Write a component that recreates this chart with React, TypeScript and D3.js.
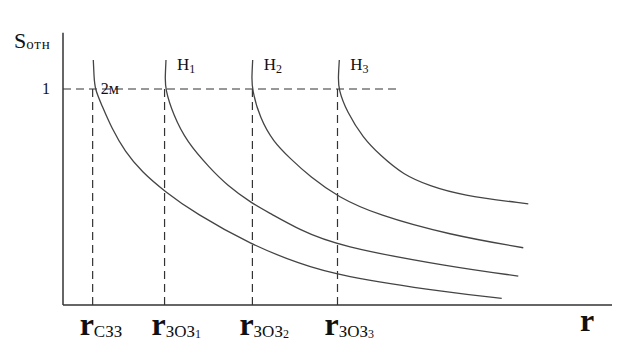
import React, { useEffect } from "react";
import * as d3 from "d3";

// ---- data (r in relative units, S = relative area) ----
const curveNames = ["2м", "H1", "H2", "H3"];
const curve2m: [number, number][] = [
  [0.552, 1.134], [0.565, 1.06], [0.58, 1.0], [0.705, 0.926], [0.887, 0.818], [1.129, 0.71],
  [1.434, 0.617], [1.858, 0.525], [2.404, 0.425], [3.437, 0.278], [4.317, 0.19],
  [5.004, 0.136], [7.049, 0.056], [7.991, 0.031],
];
const curveH1: [number, number][] = [
  [1.876, 1.134], [1.862, 1.06], [1.86, 1.0], [2.009, 0.88], [2.253, 0.756], [2.678, 0.633],
  [2.982, 0.556], [3.437, 0.471], [3.77, 0.425], [4.317, 0.347], [5.004, 0.273],
  [7.049, 0.177], [8.293, 0.134],
];
const curveH2: [number, number][] = [
  [3.455, 1.134], [3.44, 1.06], [3.44, 1.0], [3.588, 0.864], [3.831, 0.756], [4.135, 0.679],
  [4.499, 0.594], [5.015, 0.499], [5.714, 0.418], [7.049, 0.324], [8.384, 0.265],
];
const curveH3: [number, number][] = [
  [5.033, 1.134], [5.015, 1.06], [5.015, 1.0], [5.168, 0.895], [5.47, 0.772], [5.774, 0.694],
  [6.199, 0.602], [6.685, 0.551], [7.231, 0.509], [8.475, 0.468],
];
const curves = [curve2m, curveH1, curveH2, curveH3];

const markerR = [0.54, 1.85, 3.45, 5.0];
const markerSub = ["СЗЗ", "ЗОЗ", "ЗОЗ", "ЗОЗ"];
const markerIdx = ["", "1", "2", "3"];
const refS = 1;
const refLineEnd = 6.14;
const xMax = 10;
const yMax = 1.26;

const W = 642;
const H = 358;
const serif = "'Liberation Serif', 'DejaVu Serif', serif";

export default function App() {
  useEffect(() => {
    document.body.style.margin = "0";
  }, []);

  const x = d3.scaleLinear().domain([0, xMax]).range([63, 612]);
  const y = d3.scaleLinear().domain([0, 1.25]).range([305, 35]);
  const line = d3
    .line<[number, number]>()
    .x((d) => x(d[0]))
    .y((d) => y(d[1]))
    .curve(d3.curveBasis);

  const ink = "#333";

  return (
    <svg width={W} height={H} style={{ display: "block", background: "#fff" }} fontFamily={serif}>
      {/* axes */}
      <line x1={x(0)} x2={x(0)} y1={y(0)} y2={y(yMax)} stroke={ink} strokeWidth={1.5} />
      <line x1={x(0)} x2={x(xMax)} y1={y(0)} y2={y(0)} stroke={ink} strokeWidth={1.5} />

      {/* reference dashed line S = 1 */}
      <line
        x1={x(0)}
        x2={x(refLineEnd)}
        y1={y(refS)}
        y2={y(refS)}
        stroke={ink}
        strokeWidth={1.2}
        strokeDasharray="8,5"
      />
      {markerR.map((r, i) => (
        <line
          key={"v" + i}
          x1={x(r)}
          x2={x(r)}
          y1={y(refS)}
          y2={y(0)}
          stroke={ink}
          strokeWidth={1.2}
          strokeDasharray="8,5"
        />
      ))}

      {/* curves */}
      {curves.map((c, i) => (
        <path key={"c" + i} d={line(c) || ""} fill="none" stroke="#444" strokeWidth={1.3} />
      ))}

      {/* curve labels */}
      <text x={x(curve2m[2][0]) + 6} y={y(refS) + 5} fontSize={16} fill="#111">
        2м
      </text>
      {curves.slice(1).map((c, i) => (
        <text key={"h" + i} x={x(c[0][0]) + 11} y={y(c[0][1]) + 10} fontSize={17} fill="#111">
          H
          <tspan fontSize={12} dy={3}>
            {curveNames[i + 1].slice(1)}
          </tspan>
        </text>
      ))}

      {/* y label */}
      <text x={14} y={48} fontSize={22} fill="#111">
        S
        <tspan fontSize={15} dy={1} letterSpacing={0.8}>
          отн
        </tspan>
      </text>
      <text x={x(0) - 13} y={y(refS) + 5} fontSize={16} textAnchor="end" fill="#111">
        1
      </text>

      {/* x marker labels */}
      {markerR.map((r, i) => (
        <text key={"m" + i} x={x(r) - 13} y={335} fill="#111">
          <tspan fontSize={32} fontWeight="bold">
            r
          </tspan>
          <tspan fontSize={17} dy={2}>
            {markerSub[i]}
          </tspan>
          {markerIdx[i] && (
            <tspan fontSize={12} dy={1}>
              {markerIdx[i]}
            </tspan>
          )}
        </text>
      ))}

      {/* x axis label */}
      <text x={x(xMax) - 32} y={331} fontSize={32} fontWeight="bold" fill="#111">
        r
      </text>
    </svg>
  );
}
